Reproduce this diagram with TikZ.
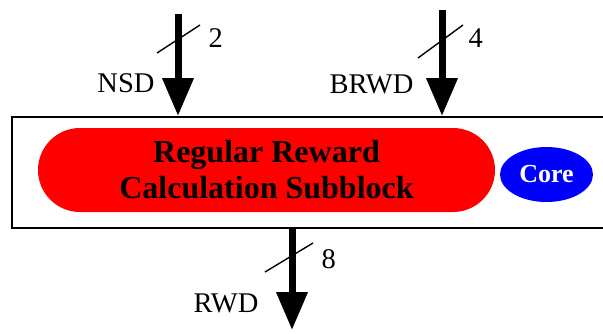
\documentclass[tikz,border=0pt]{standalone}
\usepackage{fontspec}
\setmainfont{Liberation Serif}
\usepackage{xcolor}
\definecolor{cSub}{HTML}{FF0000}
\definecolor{cCore}{HTML}{0000FF}
\usepackage{tikz}
\usetikzlibrary{positioning, arrows.meta, shapes.geometric}

\begin{document}
\begin{tikzpicture}[
    x=1pt, y=-1pt,
    bus/.style    = {-{Triangle[width=30pt, length=38pt]}, line width=7pt},
    slash/.style  = {line width=1.4pt},
    sig/.style    = {font=\fontsize{28.5}{34}\selectfont},
    subbox/.style = {fill=cSub, rounded corners=42pt, align=center,
                     minimum width=457pt, minimum height=84pt,
                     font=\fontsize{32}{36}\selectfont\bfseries},
    corebox/.style= {ellipse, fill=cCore, text=white, inner sep=0pt,
                     minimum width=93pt, minimum height=55pt,
                     font=\fontsize{26}{30}\selectfont\bfseries}
]
\useasboundingbox (0,0) rectangle (603,333);
\clip (0,0) rectangle (603,333);

% --- Bus columns: x coordinates ------------------------------------------
\def\xNsd{178}
\def\xBrwd{442}
\def\xRwd{292}

% --- Block (runs past the right edge) ------------------------------------
\node[draw, line width=2pt, minimum width=628pt, minimum height=111pt]
  (block) at (326,172.5) {};
\node[subbox] (sub)  at (266.5,170) {Regular Reward\\Calculation Subblock};
\node[corebox] (core) at (546.5,174.5) {Core};

% --- Inputs (top) ----------------------------------------------------------
\coordinate (nsdIn)  at (\xNsd,14);
\coordinate (brwdIn) at (\xBrwd,10);
\draw[bus] (nsdIn)  -- (nsdIn |- block.north);
\draw[bus] (brwdIn) -- (brwdIn |- block.north);

\draw[slash] (157,53) -- (200,25);
\draw[slash] (418,58) -- (463,25);
\node[sig, anchor=base west] (nsdW)  at (205,47) {2};
\node[sig, anchor=base west] (brwdW) at (465,47) {4};
\node[sig, anchor=base east] (nsd)   at (158,92) {NSD};
\node[sig, anchor=base east] (brwd)  at (417,93) {BRWD};

% --- Output (bottom) -------------------------------------------------------
\coordinate (rwdOut) at (\xRwd,330);
\draw[bus] (rwdOut |- block.south) -- (rwdOut);
\draw[slash] (265,272) -- (313,243);
\node[sig, anchor=base west] (rwdW) at (318,268) {8};
\node[sig, anchor=base east] (rwd)  at (262,312) {RWD};
\end{tikzpicture}
\end{document}
